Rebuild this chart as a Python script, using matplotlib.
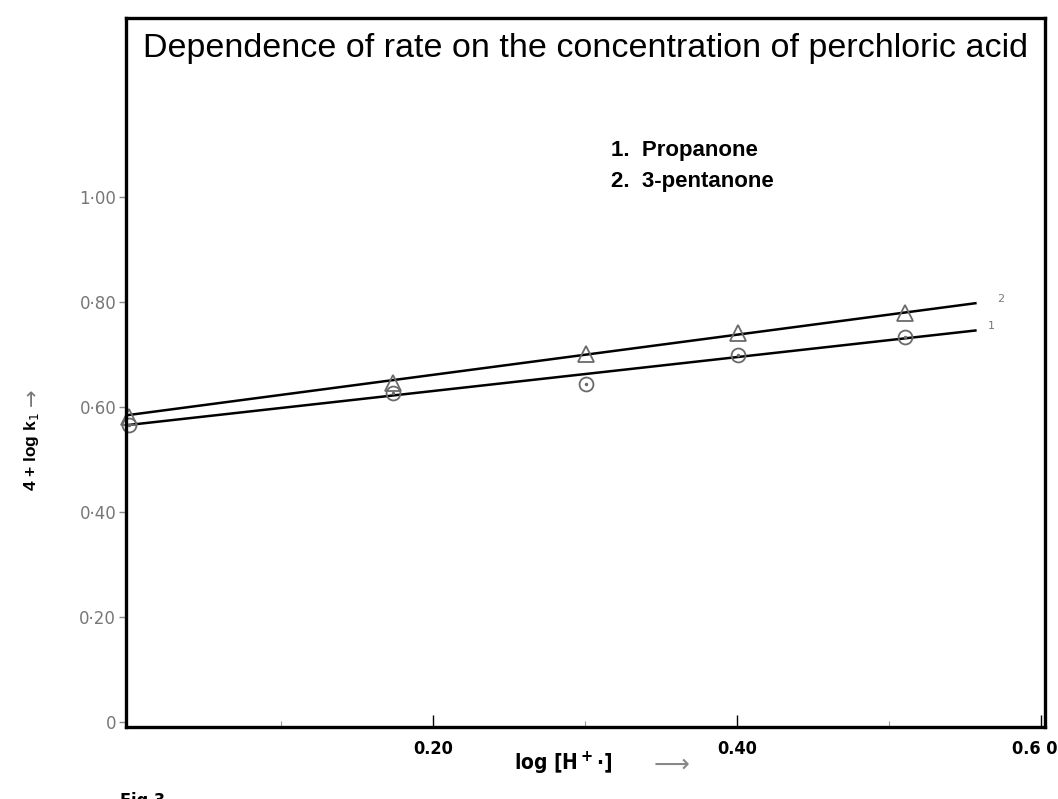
import matplotlib
matplotlib.use("Agg")
import matplotlib.pyplot as plt
import matplotlib.transforms as mtransforms
from matplotlib.ticker import FixedLocator

# log [H+] values and 4 + log k1 readings
log_h = [0.0, 0.174, 0.301, 0.401, 0.511]
propanone = [0.566, 0.627, 0.644, 0.699, 0.733]
pentanone = [0.581, 0.646, 0.701, 0.741, 0.779]

# fitted lines (end points)
fit_x = [0.0, 0.557]
fit_propanone = [0.566, 0.746]
fit_pentanone = [0.585, 0.798]

y_ticks = [0, 0.2, 0.4, 0.6, 0.8, 1.0]
y_labels = ["0", "0\u00b720", "0\u00b740", "0\u00b760", "0\u00b780", "1\u00b700"]
x_ticks = [0.2, 0.4, 0.6]
x_labels = ["0.20", "0.40", "0.6 0"]

fig = plt.figure(figsize=(10.58, 7.99), dpi=100)
ax = fig.add_axes([0.119, 0.090, 0.869, 0.887])

ax.plot(fit_x, fit_pentanone, color="black", lw=1.8)
ax.plot(fit_x, fit_propanone, color="black", lw=1.8)

ax.plot(log_h, pentanone, ls="none", marker="^", ms=12, mfc="none",
        mec="#6a6a6a", mew=1.3, clip_on=False)
ax.plot(log_h, propanone, ls="none", marker="o", ms=10, mfc="none",
        mec="#6a6a6a", mew=1.3, clip_on=False)
ax.plot(log_h, propanone, ls="none", marker=".", ms=3, color="#6a6a6a",
        clip_on=False)

ax.text(fit_x[1] + 0.014, fit_pentanone[1] + 0.008, "2", fontsize=8,
        color="#777777", va="center")
ax.text(fit_x[1] + 0.008, fit_propanone[1] + 0.008, "1", fontsize=8,
        color="#777777", va="center")

ax.set_xlim(-0.002, 0.603)
ax.set_ylim(-0.01, 1.341)

for s in ax.spines.values():
    s.set_linewidth(2.4)

ax.set_yticks(y_ticks)
ax.set_yticklabels(y_labels, fontsize=12, color="#777777")
ax.tick_params(axis="y", direction="out", length=5, width=1, color="#888888",
               pad=2)

ax.set_xticks(x_ticks)
ax.set_xticklabels(x_labels, fontsize=13, fontweight="bold",
                   family="DejaVu Sans", fontstretch="condensed")
ax.xaxis.set_minor_locator(FixedLocator([0.1, 0.3, 0.5]))
ax.tick_params(axis="x", which="major", direction="in", length=9, width=1,
               pad=9)
ax.tick_params(axis="x", which="minor", direction="in", length=4, width=0.8,
               color="#999999")
# last label sits against the figure edge, nudge it left
last = ax.get_xticklabels()[-1]
last.set_transform(last.get_transform() +
                   mtransforms.ScaledTranslation(-0.06, 0, fig.dpi_scale_trans))

ax.text(0.5, 0.958, "Dependence of rate on the concentration of perchloric acid",
        transform=ax.transAxes, ha="center", va="center", fontsize=24.5,
        family="Liberation Sans")

ax.text(0.528, 0.814, "1.  Propanone", transform=ax.transAxes, fontsize=16,
        fontweight="bold", family="Liberation Sans", va="center")
ax.text(0.528, 0.770, "2.  3-pentanone", transform=ax.transAxes, fontsize=16,
        fontweight="bold", family="Liberation Sans", va="center")

fig.text(0.030, 0.435, "4 + log k$_1$", rotation=90, fontsize=12.5,
         fontweight="bold", family="Liberation Sans", ha="center", va="center")
fig.text(0.030, 0.503, "\u2192", rotation=90, fontsize=15, color="#777777",
         ha="center", va="center")

fig.text(0.532, 0.045, "log [H$^{\\bf +}$\u00b7]", fontsize=15, fontweight="bold",
         family="DejaVu Sans", fontstretch="condensed", ha="center", va="center")
fig.text(0.635, 0.043, "\u27f6", fontsize=18, color="#888888",
         ha="center", va="center")

# caption is cut by the bottom edge in the original too
fig.text(0.113, -0.002, "Fig 3", fontsize=13, fontweight="bold",
         family="DejaVu Sans", fontstretch="condensed", va="center")

fig.savefig("out.png", dpi=100)
